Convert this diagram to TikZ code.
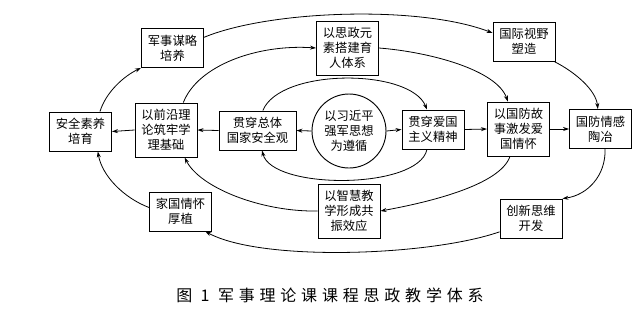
\documentclass[tikz,border=0pt]{standalone}
\usepackage{fontspec}
\setmainfont{Noto Sans CJK SC}
\usetikzlibrary{arrows.meta}

\tikzset{
    box/.style={draw, line width=0.7pt, align=center, inner sep=1pt,
        minimum width=46.5pt, minimum height=29.25pt,
        font=\fontsize{9.2}{11.3}\selectfont},
    tallbox/.style={box, minimum height=40.5pt},
    link/.style={line width=0.6pt, -{Stealth[length=4.5pt, width=3pt]}},
}

\begin{document}
\begin{tikzpicture}[x=0.75pt, y=-0.75pt]
    \useasboundingbox (0, 0) rectangle (643, 319);

    % Middle row
    \node[circle, draw, line width=0.7pt, align=center, inner sep=0pt, minimum size=55.5pt,
        font=\fontsize{9.2}{11.3}\selectfont] (center) at (349, 131) {以习近平\\强军思想\\为遵循};
    \node[box] (anquan) at (80.5, 131.5) {安全素养\\培育};
    \node[tallbox] (qianyan) at (166, 130) {以前沿理\\论筑牢学\\理基础};
    \node[box, minimum width=57.75pt] (zongti) at (257.5, 130.5) {贯穿总体\\国家安全观};
    \node[box] (aiguo) at (433, 129.5) {贯穿爱国\\主义精神};
    \node[tallbox] (gushi) at (518.5, 129) {以国防故\\事激发爱\\国情怀};
    \node[box] (qinggan) at (600.5, 129) {国防情感\\陶冶};

    % Upper and lower rows
    \node[box] (moulue) at (172.5, 48) {军事谋略\\培养};
    \node[tallbox] (sizheng) at (347.5, 48) {以思政元\\素搭建育\\人体系};
    \node[box] (shiye) at (524, 41.5) {国际视野\\塑造};
    \node[box] (jiaguo) at (180.5, 211.5) {家国情怀\\厚植};
    \node[tallbox] (zhihui) at (349, 211) {以智慧教\\学形成共\\振效应};
    \node[box] (chuangxin) at (531, 218.5) {创新思维\\开发};

    % Straight arrows from the centre
    \draw[link] (center.west) -- (zongti.east);
    \draw[link] (zongti.west) -- (qianyan.east);
    \draw[link] (qianyan.west) -- (anquan.east);
    \draw[link] (center.east) -- (aiguo.west);
    \draw[link] (aiguo.east) -- (gushi.west);
    \draw[link] (gushi.east) -- (qinggan.west);

    % Inner ring
    \draw[link] ([xshift=4pt]zongti.north) .. controls (280, 68) and (410, 68) .. ([xshift=-4.5pt]aiguo.north);
    \draw[link] ([xshift=-4.5pt]aiguo.south) .. controls (418, 190) and (272, 190) .. ([xshift=3.4pt]zongti.south);

    % Middle ring
    \draw[link] ([xshift=13pt]qianyan.north) .. controls (198, 65) and (258, 44) .. (sizheng.west);
    \draw[link] (sizheng.east) .. controls (430, 52) and (497, 70) .. ([xshift=-8pt]gushi.north);
    \draw[link] ([xshift=-6.4pt]gushi.south) .. controls (500, 185) and (430, 202) .. (zhihui.east);
    \draw[link] (zhihui.west) .. controls (262, 212) and (200, 188) .. ([xshift=14pt]qianyan.south);

    % Outer ring
    \draw[link] ([xshift=14.6pt]anquan.north) .. controls (106, 92) and (124, 76) .. (moulue.south west);
    \draw[link] ([yshift=8pt]moulue.east) .. controls (270, 10) and (420, 5) .. ([yshift=6.4pt]shiye.west);
    \draw[link] ([xshift=-1pt]shiye.south east) .. controls (575, 72) and (596, 90) .. ([xshift=-2pt]qinggan.north);
    \draw[link] ([xshift=3.4pt]qinggan.south) .. controls (606, 175) and (588, 195) .. (chuangxin.north east);
    \draw[link] ([yshift=-10pt]chuangxin.west) .. controls (430, 256) and (262, 262) .. ([xshift=-5pt]jiaguo.south east);
    \draw[link] ([yshift=3pt]jiaguo.west) .. controls (124, 198) and (102, 176) .. ([xshift=13pt]anquan.south);

    % Caption
    \node[font=\fontsize{12}{14}\selectfont\addfontfeature{LetterSpace=30}] (caption) at (330, 295) {图 1 军事理论课课程思政教学体系};
\end{tikzpicture}
\end{document}
